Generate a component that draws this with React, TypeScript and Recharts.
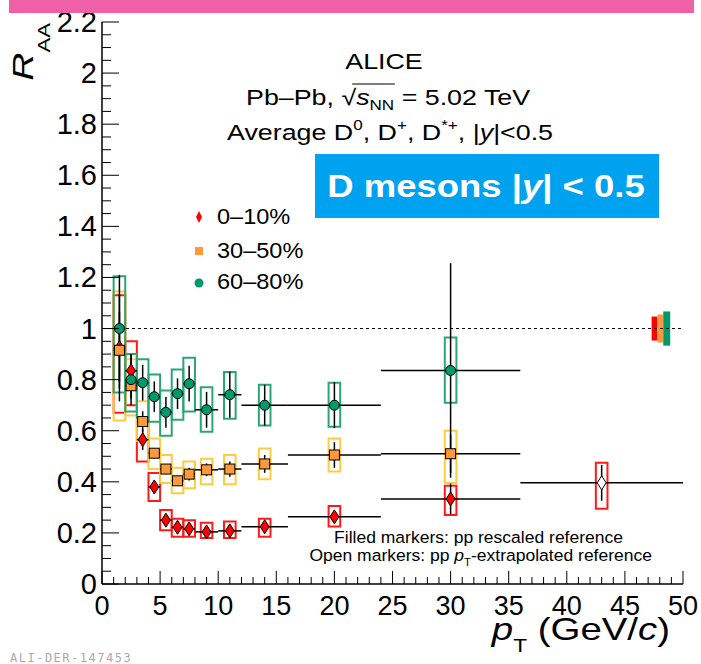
import React from 'react';
import { ComposedChart, Scatter, XAxis, YAxis, ErrorBar, ReferenceArea, ReferenceLine } from 'recharts';

// ---- data ----
const ptCenters = [1.5, 2.5, 3.5, 4.5, 5.5, 6.5, 7.5, 9, 11, 14, 20, 30];
const ptHalfWidths = [0.5, 0.5, 0.5, 0.5, 0.5, 0.5, 0.5, 1, 1, 2, 4, 6];
const sysBoxHalfWidth = 0.5;

const raa0010 = [0.925, 0.835, 0.565, 0.38, 0.25, 0.222, 0.216, 0.204, 0.208, 0.224, 0.263, 0.333];
const stat0010 = [0.21, 0.06, 0.04, 0.025, 0.015, 0.015, 0.015, 0.012, 0.015, 0.015, 0.02, 0.06];
const sysLo0010 = [0.67, 0.7, 0.48, 0.325, 0.21, 0.185, 0.185, 0.18, 0.18, 0.185, 0.225, 0.27];
const sysHi0010 = [1.13, 0.95, 0.64, 0.435, 0.29, 0.255, 0.25, 0.24, 0.245, 0.255, 0.305, 0.385];

const openPt = [43];
const openHalfWidth = [7];
const openRaa0010 = [0.396];
const openStat0010 = [0.07];
const openSysLo0010 = [0.295];
const openSysHi0010 = [0.475];

const raa3050 = [0.915, 0.776, 0.636, 0.512, 0.45, 0.404, 0.43, 0.447, 0.45, 0.47, 0.505, 0.51];
const stat3050 = [0.15, 0.05, 0.04, 0.02, 0.02, 0.02, 0.025, 0.025, 0.03, 0.035, 0.05, 0.075];
const sysLo3050 = [0.64, 0.66, 0.56, 0.45, 0.395, 0.355, 0.375, 0.39, 0.39, 0.41, 0.44, 0.395];
const sysHi3050 = [1.145, 0.88, 0.715, 0.57, 0.505, 0.455, 0.48, 0.49, 0.505, 0.53, 0.57, 0.6];

const raa6080 = [1.0, 0.8, 0.788, 0.733, 0.672, 0.745, 0.784, 0.682, 0.741, 0.7, 0.7, 0.836];
const stat6080 = [0.21, 0.1, 0.07, 0.06, 0.06, 0.06, 0.07, 0.07, 0.09, 0.08, 0.09, 0.42];
const sysLo6080 = [0.75, 0.675, 0.65, 0.635, 0.58, 0.643, 0.675, 0.596, 0.647, 0.62, 0.616, 0.71];
const sysHi6080 = [1.205, 0.9, 0.88, 0.82, 0.757, 0.84, 0.886, 0.77, 0.83, 0.78, 0.788, 0.965];

// normalisation uncertainty boxes at R_AA = 1
const normXLo = [47.3, 47.8, 48.3];
const normXHi = [47.8, 48.3, 48.9];
const normYLo = [0.953, 0.945, 0.933];
const normYHi = [1.047, 1.055, 1.067];

const centralityLabels = ['0–10%', '30–50%', '60–80%'];

const xTicks = [0, 1, 2, 3, 4, 5, 6, 7, 8, 9, 10, 11, 12, 13, 14, 15, 16, 17, 18, 19, 20, 21, 22, 23, 24, 25, 26, 27, 28, 29, 30, 31, 32, 33, 34, 35, 36, 37, 38, 39, 40, 41, 42, 43, 44, 45, 46, 47, 48, 49, 50];
const yTicks = [0, 0.05, 0.1, 0.15, 0.2, 0.25, 0.3, 0.35, 0.4, 0.45, 0.5, 0.55, 0.6, 0.65, 0.7, 0.75, 0.8, 0.85, 0.9, 0.95, 1, 1.05, 1.1, 1.15, 1.2, 1.25, 1.3, 1.35, 1.4, 1.45, 1.5, 1.55, 1.6, 1.65, 1.7, 1.75, 1.8, 1.85, 1.9, 1.95, 2, 2.05, 2.1, 2.15, 2.2];

// ---- styling ----
const FONT = "'Liberation Sans', Arial, Helvetica, sans-serif";
const RED = '#ff0000';
const RED_BOX = '#ff1a1a';
const ORANGE = '#ff9a3c';
const ORANGE_BOX = '#ffcc40';
const GREEN = '#00996b';
const GREEN_BOX = '#2aa676';

const makeRows = (raa: number[], stat: number[]) =>
  ptCenters.map((x, i) => ({ x, y: raa[i], ex: ptHalfWidths[i], ey: stat[i] }));

const rows0010 = makeRows(raa0010, stat0010);
const rows3050 = makeRows(raa3050, stat3050);
const rows6080 = makeRows(raa6080, stat6080);
const rowsOpen = openPt.map((x, i) => ({ x, y: openRaa0010[i], ex: openHalfWidth[i], ey: openStat0010[i] }));

const isMajor = (v: number, step: number) => Math.abs(v / step - Math.round(v / step)) < 1e-6;

const XTickBottom = (props: any) => {
  const { x, y, payload } = props;
  const v = payload.value;
  const major = isMajor(v, 5);
  return (
    <g>
      <line x1={x} x2={x} y1={y} y2={y - (major ? 13 : 7)} stroke="#000" strokeWidth={1} />
      {major && (
        <text x={x} y={y + 31} textAnchor="middle" fontSize={27} fontFamily={FONT} fill="#000">
          {v}
        </text>
      )}
    </g>
  );
};

const XTickTop = (props: any) => {
  const { x, y, payload } = props;
  const major = isMajor(payload.value, 5);
  return <line x1={x} x2={x} y1={y} y2={y + (major ? 13 : 7)} stroke="#000" strokeWidth={1} />;
};

const YTickLeft = (props: any) => {
  const { x, y, payload } = props;
  const v = payload.value;
  const major = isMajor(v, 0.2);
  return (
    <g>
      <line x1={x} x2={x + (major ? 17 : 9)} y1={y} y2={y} stroke="#000" strokeWidth={1} />
      {major && (
        <text x={x - 5} y={y + 10} textAnchor="end" fontSize={29} fontFamily={FONT} fill="#000">
          {Number(v.toFixed(1)).toString()}
        </text>
      )}
    </g>
  );
};

const YTickRight = (props: any) => {
  const { x, y, payload } = props;
  const major = isMajor(payload.value, 0.2);
  return <line x1={x} x2={x - (major ? 17 : 9)} y1={y} y2={y} stroke="#000" strokeWidth={1} />;
};

const DiamondShape = (fill: string) => (props: any) => {
  const { cx, cy } = props;
  return (
    <polygon
      points={`${cx},${cy - 7} ${cx + 4.5},${cy} ${cx},${cy + 7} ${cx - 4.5},${cy}`}
      fill={fill}
      stroke="#000"
      strokeWidth={1}
    />
  );
};
const SquareShape = (props: any) => {
  const { cx, cy } = props;
  return <rect x={cx - 5} y={cy - 5} width={10} height={10} fill={ORANGE} stroke="#000" strokeWidth={1} />;
};
const CircleShape = (props: any) => {
  const { cx, cy } = props;
  return <circle cx={cx} cy={cy} r={5} fill={GREEN} stroke="#000" strokeWidth={1} />;
};

const sysBoxes = (lo: number[], hi: number[], pts: number[], color: string, key: string) =>
  pts.map((x, i) => (
    <ReferenceArea
      key={`${key}-${i}`}
      x1={x - sysBoxHalfWidth}
      x2={x + sysBoxHalfWidth}
      y1={lo[i]}
      y2={hi[i]}
      fill="none"
      fillOpacity={0}
      stroke={color}
      strokeWidth={2}
      ifOverflow="visible"
    />
  ));

const normColors = [RED, ORANGE, GREEN];

export default function App() {
  return (
    <div style={{ position: 'absolute', left: 0, top: 0, width: 701, height: 664, background: '#fff' }}>
      <ComposedChart
        width={701}
        height={664}
        margin={{ top: 22, right: 18, bottom: 0, left: 0 }}
        style={{ position: 'absolute', left: 0, top: 0 }}
      >
        <XAxis
          xAxisId={0}
          dataKey="x"
          type="number"
          domain={[0, 50]}
          allowDataOverflow
          ticks={xTicks}
          interval={0}
          tickSize={0}
          tickMargin={0}
          tickLine={false}
          height={80}
          axisLine={{ stroke: '#000', strokeWidth: 1.5 }}
          tick={<XTickBottom />}
        />
        <XAxis
          xAxisId="top"
          orientation="top"
          dataKey="x"
          type="number"
          domain={[0, 50]}
          allowDataOverflow
          ticks={xTicks}
          interval={0}
          tickSize={0}
          tickMargin={0}
          tickLine={false}
          height={0}
          axisLine={{ stroke: '#000', strokeWidth: 1.5 }}
          tick={<XTickTop />}
        />
        <YAxis
          yAxisId={0}
          type="number"
          domain={[0, 2.2]}
          allowDataOverflow
          ticks={yTicks}
          interval={0}
          tickSize={0}
          tickMargin={0}
          tickLine={false}
          width={102}
          axisLine={{ stroke: '#000', strokeWidth: 1.5 }}
          tick={<YTickLeft />}
        />
        <YAxis
          yAxisId="right"
          orientation="right"
          type="number"
          domain={[0, 2.2]}
          allowDataOverflow
          ticks={yTicks}
          interval={0}
          tickSize={0}
          tickMargin={0}
          tickLine={false}
          width={0}
          axisLine={{ stroke: '#000', strokeWidth: 1.5 }}
          tick={<YTickRight />}
        />

        <ReferenceLine y={1} stroke="#000" strokeWidth={1} strokeDasharray="3 3" />

        {sysBoxes(sysLo0010, sysHi0010, ptCenters, RED_BOX, 'r')}
        {sysBoxes(openSysLo0010, openSysHi0010, openPt, RED_BOX, 'ro')}
        {sysBoxes(sysLo3050, sysHi3050, ptCenters, ORANGE_BOX, 'o')}
        {sysBoxes(sysLo6080, sysHi6080, ptCenters, GREEN_BOX, 'g')}

        {normXLo.map((x1, i) => (
          <ReferenceArea
            key={`n-${i}`}
            x1={x1}
            x2={normXHi[i]}
            y1={normYLo[i]}
            y2={normYHi[i]}
            fill={normColors[i]}
            fillOpacity={1}
            stroke="none"
            ifOverflow="visible"
          />
        ))}

        <Scatter name={centralityLabels[0]} data={rows0010} dataKey="y" isAnimationActive={false} shape={DiamondShape(RED)}>
          <ErrorBar dataKey="ex" direction="x" width={0} stroke="#000" strokeWidth={1.5} />
          <ErrorBar dataKey="ey" direction="y" width={0} stroke="#000" strokeWidth={1.5} />
        </Scatter>
        <Scatter name="open" data={rowsOpen} dataKey="y" isAnimationActive={false} shape={DiamondShape('#fff')}>
          <ErrorBar dataKey="ex" direction="x" width={0} stroke="#000" strokeWidth={1.5} />
          <ErrorBar dataKey="ey" direction="y" width={0} stroke="#000" strokeWidth={1.5} />
        </Scatter>
        <Scatter name={centralityLabels[1]} data={rows3050} dataKey="y" isAnimationActive={false} shape={SquareShape}>
          <ErrorBar dataKey="ex" direction="x" width={0} stroke="#000" strokeWidth={1.5} />
          <ErrorBar dataKey="ey" direction="y" width={0} stroke="#000" strokeWidth={1.5} />
        </Scatter>
        <Scatter name={centralityLabels[2]} data={rows6080} dataKey="y" isAnimationActive={false} shape={CircleShape}>
          <ErrorBar dataKey="ex" direction="x" width={0} stroke="#000" strokeWidth={1.5} />
          <ErrorBar dataKey="ey" direction="y" width={0} stroke="#000" strokeWidth={1.5} />
        </Scatter>
      </ComposedChart>

      <svg
        width={701}
        height={664}
        style={{ position: 'absolute', left: 0, top: 0, pointerEvents: 'none' }}
        fontFamily={FONT}
      >
        <rect x={9} y={0} width={685} height={13} fill="#f060a8" />

        <g transform="translate(384,69) scale(1.22,1)">
          <text x={0} y={0} textAnchor="middle" fontSize={22} fill="#000">ALICE</text>
        </g>
        <g transform="translate(246,105) scale(1.22,1)">
          <text x={0} y={0} fontSize={22} fill="#000">
            Pb–Pb, √<tspan fontStyle="italic">s</tspan>
            <tspan fontSize={14} dy={5}>NN</tspan>
            <tspan dy={-5}> = 5.02 TeV</tspan>
          </text>
          <line x1={87} x2={122} y1={-21} y2={-21} stroke="#000" strokeWidth={1} />
        </g>
        <g transform="translate(227,140) scale(1.22,1)">
          <text x={0} y={0} fontSize={22} fill="#000">
            Average D<tspan fontSize={14} dy={-10}>0</tspan>
            <tspan dy={10}>, D</tspan>
            <tspan fontSize={14} dy={-10}>+</tspan>
            <tspan dy={10}>, D</tspan>
            <tspan fontSize={14} dy={-10}>*+</tspan>
            <tspan dy={10}>, |</tspan>
            <tspan fontStyle="italic">y</tspan>|&lt;0.5
          </text>
        </g>

        <rect x={315} y={154} width={344} height={64} fill="#00a2f0" />
        <g transform="translate(486,197) scale(1.14,1)">
          <text x={0} y={0} textAnchor="middle" fontSize={32} fontWeight="bold" fill="#fff">
            D mesons |<tspan fontStyle="italic">y</tspan>| &lt; 0.5
          </text>
        </g>

        <polygon points="199,211 202,217 199,223 196,217" fill={RED} />
        <polygon points="0,0" fill="none" />
        <rect x={195} y={247} width={8} height={8} fill={ORANGE} />
        <circle cx={199} cy={283} r={4.5} fill={GREEN} />
        <g transform="translate(217,224) scale(1.07,1)">
          <text x={0} y={0} fontSize={22} fill="#000">{centralityLabels[0]}</text>
        </g>
        <g transform="translate(217,258) scale(1.07,1)">
          <text x={0} y={0} fontSize={22} fill="#000">{centralityLabels[1]}</text>
        </g>
        <g transform="translate(217,289) scale(1.07,1)">
          <text x={0} y={0} fontSize={22} fill="#000">{centralityLabels[2]}</text>
        </g>

        <g transform="translate(623,543) scale(1.03,1)">
          <text x={0} y={0} textAnchor="end" fontSize={17} fill="#000">Filled markers: pp rescaled reference</text>
        </g>
        <g transform="translate(652,561) scale(1.03,1)">
          <text x={0} y={0} textAnchor="end" fontSize={17} fill="#000">
            Open markers: pp <tspan fontStyle="italic">p</tspan>
            <tspan fontSize={11} dy={5}>T</tspan>
            <tspan dy={-5}>-extrapolated reference</tspan>
          </text>
        </g>

        <g transform="translate(33,23) rotate(-90) scale(1.3,1)">
          <text x={0} y={0} textAnchor="end" fontSize={30} fill="#000">
            <tspan fontStyle="italic">R</tspan>
            <tspan fontSize={17} dy={17}>AA</tspan>
          </text>
        </g>

        <g transform="translate(670,640) scale(1.2,1)">
          <text x={0} y={0} textAnchor="end" fontSize={32} fill="#000">
            <tspan fontStyle="italic">p</tspan>
            <tspan fontSize={19} dy={12}>T</tspan>
            <tspan dy={-12}> (GeV/</tspan>
            <tspan fontStyle="italic">c</tspan>)
          </text>
        </g>

        <text x={10} y={662} fontSize={12} fontFamily="'DejaVu Sans Mono', monospace" letterSpacing={1.5} fill="#aaa">
          ALI-DER-147453
        </text>
      </svg>
    </div>
  );
}
